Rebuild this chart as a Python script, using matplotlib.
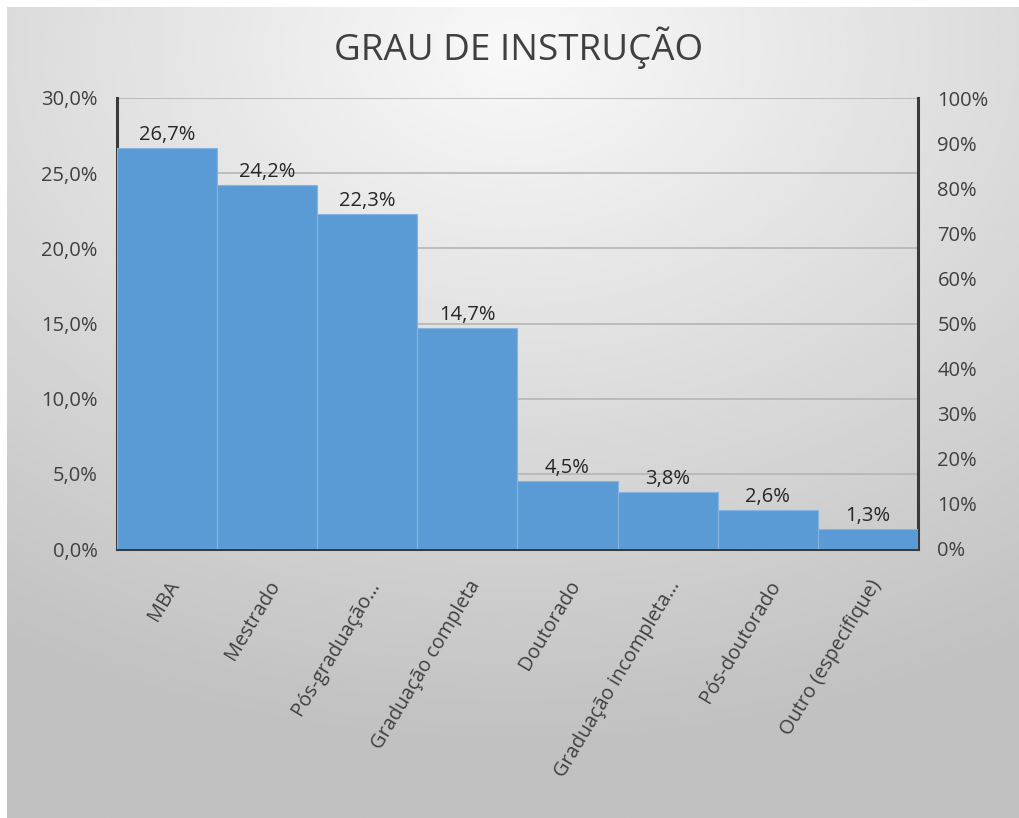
import numpy as np
import matplotlib.pyplot as plt
from matplotlib.ticker import FuncFormatter, MultipleLocator

# Dados do gráfico
categorias = ["MBA", "Mestrado", "Pós-graduação…", "Graduação completa", "Doutorado",
              "Graduação incompleta…", "Pós-doutorado", "Outro (especifique)"]
percentuais = [26.7, 24.2, 22.3, 14.7, 4.5, 3.8, 2.6, 1.3]

plt.rcParams['font.family'] = ['Open Sans', 'DejaVu Sans']

W, H = 1020, 818
fig = plt.figure(figsize=(W / 100, H / 100), dpi=100)
fig.patch.set_facecolor('white')

# Fundo com gradiente (claro no alto, cinza nas bordas)
bg = fig.add_axes([7 / W, 0, 1 - 7 / W, 1 - 7 / H], zorder=-10)
yy, xx = np.mgrid[0:1:300j, 0:1:300j]
d = np.sqrt(((xx - 0.5) * 1.0) ** 2 + ((yy - 0.05) * 1.1) ** 2)
val = 0.975 - 0.22 * np.clip(d / 0.95, 0, 1)
bg.imshow(val, cmap='gray', vmin=0, vmax=1, aspect='auto', extent=[0, 1, 1, 0])
bg.set_axis_off()

ax = fig.add_axes([117 / W, 1 - 549 / H, (918 - 117) / W, (549 - 98) / H])
ax.set_facecolor('none')

x = np.arange(len(categorias))
barras = ax.bar(x, percentuais, width=1.0, color='#5B9BD5', edgecolor='#86b3e0', linewidth=0.8, zorder=3)

for xi, v in zip(x, percentuais):
    ax.text(xi, v + 0.2, f"{v:.1f}%".replace('.', ','), ha='center', va='bottom',
            fontsize=14.5, color='#262626', zorder=4)

ax.set_xlim(-0.5, len(categorias) - 0.5)
ax.set_ylim(0, 30)
ax.yaxis.set_major_locator(MultipleLocator(5))
ax.yaxis.set_major_formatter(FuncFormatter(lambda v, p: f"{v:.1f}%".replace('.', ',')))
ax.grid(axis='y', color='#b5b5b5', linewidth=1.2, zorder=0)
ax.set_axisbelow(True)

ax.set_xticks(x)
ax.set_xticklabels(categorias, rotation=59, ha='right', rotation_mode='anchor',
                   fontsize=14.3, color='#404040')
ax.tick_params(axis='x', length=0, pad=20)
ax.tick_params(axis='y', length=0, pad=14, labelsize=14.5, labelcolor='#404040')

for s in ['left', 'bottom', 'right']:
    ax.spines[s].set_color('#3a3a3a')
    ax.spines[s].set_linewidth(2.2)
ax.spines['top'].set_visible(False)

# Eixo secundário 0-100%
ax2 = ax.twinx()
ax2.set_ylim(0, 100)
ax2.yaxis.set_major_locator(MultipleLocator(10))
ax2.yaxis.set_major_formatter(FuncFormatter(lambda v, p: f"{v:.0f}%"))
ax2.tick_params(axis='y', length=0, pad=14, labelsize=14.5, labelcolor='#404040')
for s in ax2.spines.values():
    s.set_visible(False)

fig.text(519 / W, 1 - 48 / H, "GRAU DE INSTRUÇÃO", ha='center', va='center',
         fontsize=26.5, color='#404040')

fig.savefig("out.png", dpi=100)
